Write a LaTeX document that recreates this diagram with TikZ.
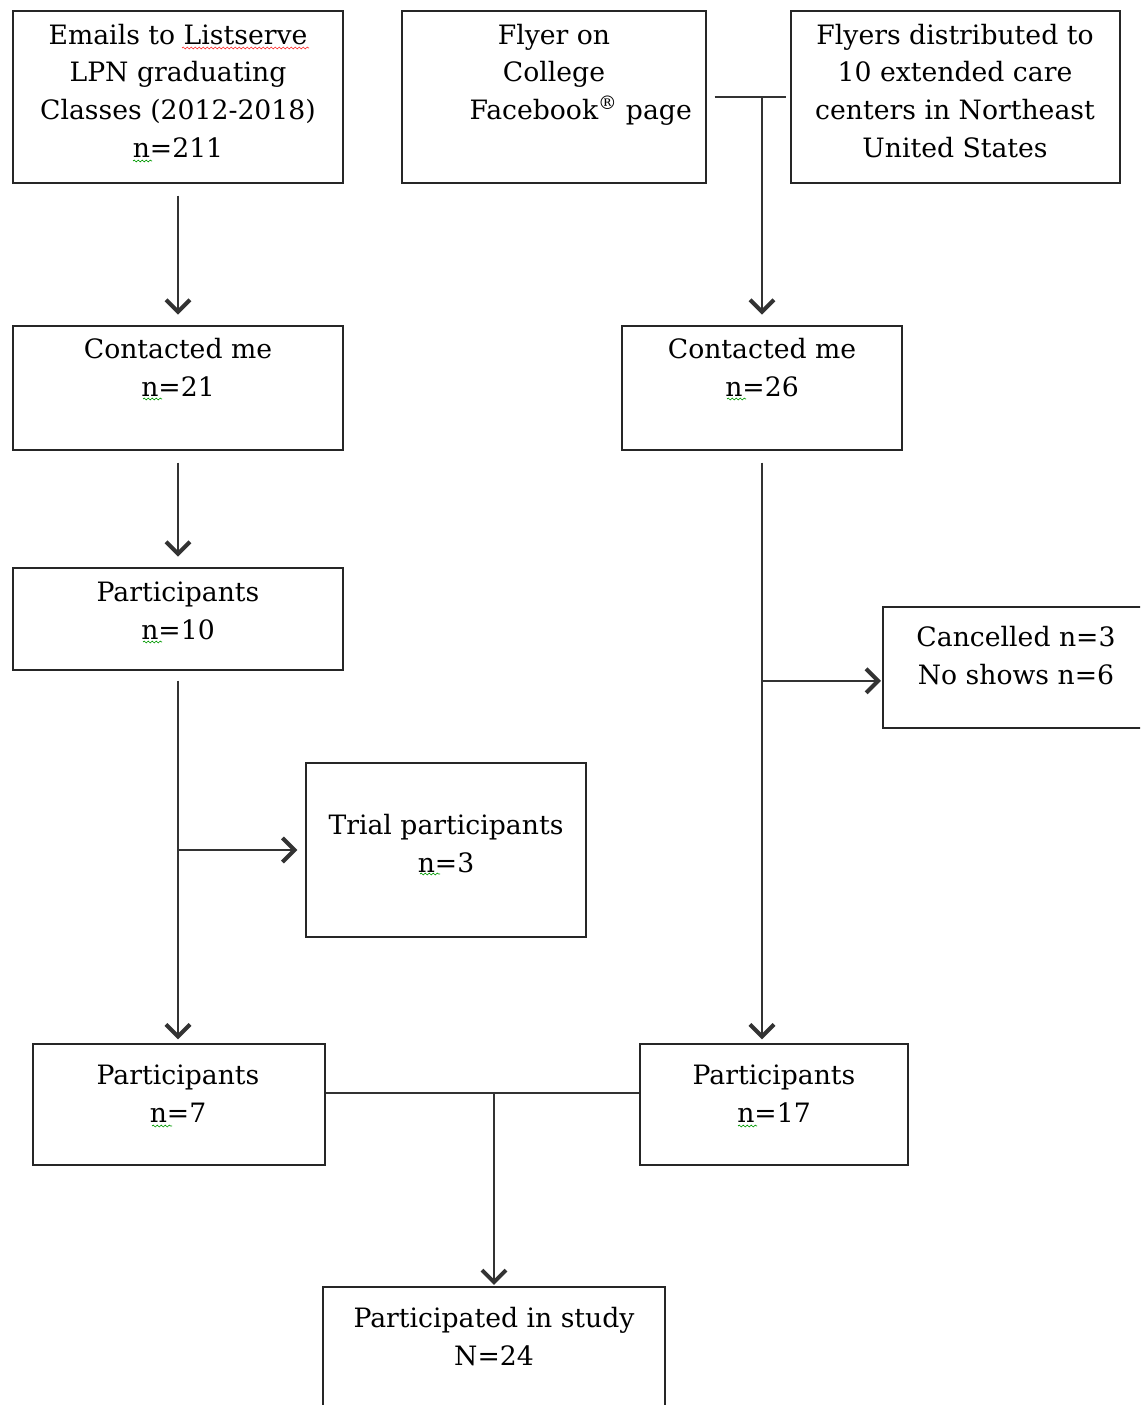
\documentclass[tikz,border=0pt]{standalone}
\usepackage{fontspec}
\setmainfont{DejaVu Serif}
\usetikzlibrary{arrows.meta,fit,decorations.pathmorphing}
\newcommand\fs{\rule{0pt}{18pt}}
\begin{document}
\begin{tikzpicture}[x=0.75pt,y=-0.75pt,
  box/.style={draw=black!85, line width=1.1pt, inner sep=0pt},
  txt/.style={anchor=north, inner sep=0pt, align=center, text=black,
    font=\fontsize{20pt}{28.3pt}\selectfont},
  conn/.style={draw=black!80, line width=1.1pt},
  arr/.style={conn, -{Straight Barb[length=9pt,width=18pt,line width=3pt]}},
  wavyr/.style={draw=red!80, line width=0.5pt, decorate, decoration={snake, amplitude=0.7pt, segment length=3pt}},
  wavyg/.style={draw=green!60!black, line width=0.5pt, decorate, decoration={snake, amplitude=0.7pt, segment length=3pt}}]
\useasboundingbox (0,0) rectangle (1140,1405);
\clip (0,0) rectangle (1140,1405);
\fill[white] (0,0) rectangle (1140,1405);

% boxes
\node[box, fit={(13,11)(343,183)}] (A) {};
\node[box, fit={(402,11)(706,183)}] (B) {};
\node[box, fit={(791,11)(1120,183)}] (C) {};
\node[box, fit={(13,326)(343,450)}] (D) {};
\node[box, fit={(622,326)(902,450)}] (E) {};
\node[box, fit={(13,568)(343,670)}] (F) {};
\node[box, fit={(306,763)(586,937)}] (G) {};
\node[box, fit={(883,607)(1150,728)}] (K) {};
\node[box, fit={(33,1044)(325,1165)}] (H) {};
\node[box, fit={(640,1044)(908,1165)}] (I) {};
\node[box, fit={(323,1287)(665,1440)}] (J) {};

% texts (anchor north = first baseline - 24px)
\node[txt] (tA) at (178,20) {\fs Emails to Listserve\\LPN graduating\\Classes (2012-2018)\\n=211};
\node[txt] (tB) at (554,20) {\fs Flyer on\\College\\\hspace*{40pt}Facebook\textsuperscript{\textregistered} page};
\node[txt] (tC) at (955,20) {\fs Flyers distributed to\\10 extended care\\centers in Northeast\\United States};
\node[txt] (tD) at (178,334) {\fs Contacted me\\n=21};
\node[txt] (tE) at (762,334) {\fs Contacted me\\n=26};
\node[txt] (tF) at (178,577) {\fs Participants\\n=10};
\node[txt] (tG) at (446,810) {\fs Trial participants\\n=3};
\node[txt] (tK) at (1016,622) {\fs Cancelled n=3\\No shows n=6};
\node[txt] (tH) at (178,1060) {\fs Participants\\n=7};
\node[txt] (tI) at (774,1060) {\fs Participants\\n=17};
\node[txt] (tJ) at (494,1303) {\fs Participated in study\\N=24};

% spell-check squiggles
\draw[wavyr] (182,48) -- (309,48);
\draw[wavyg] (133,161) -- (152,161);
\draw[wavyg] (143,399) -- (162,399);
\draw[wavyg] (727,399) -- (746,399);
\draw[wavyg] (143,642) -- (162,642);
\draw[wavyg] (420,874) -- (440,874);
\draw[wavyg] (152,1126) -- (172,1126);
\draw[wavyg] (738,1126) -- (757,1126);

% connectors
\draw[arr, shorten <=9pt, shorten >=8pt] (A.south) -- (D.north);
\draw[arr, shorten <=9pt, shorten >=8pt] (D.south) -- (F.north);
\draw[conn, shorten <=6pt, shorten >=3pt] (B.east) -- (C.west);
\draw[arr, shorten >=8pt] (E.north |- B.east) -- (E.north);
\draw[arr, shorten <=7.5pt, shorten >=3pt] (F.south) -- (F.south |- H.north);
\draw[arr, shorten >=6pt] (F.south |- G.west) -- (G.west);
\draw[arr, shorten <=9pt, shorten >=3pt] (E.south) -- (E.south |- I.north);
\draw[arr, shorten >=1pt] ([yshift=-10pt]E.south |- K.west) -- ([yshift=-10pt]K.west);
\draw[conn] ([yshift=8.6pt]H.east) coordinate (hl) -- ([yshift=8.6pt]I.west);
\draw[arr, shorten >=1pt] (J.north |- hl) -- (J.north);
\end{tikzpicture}
\end{document}
